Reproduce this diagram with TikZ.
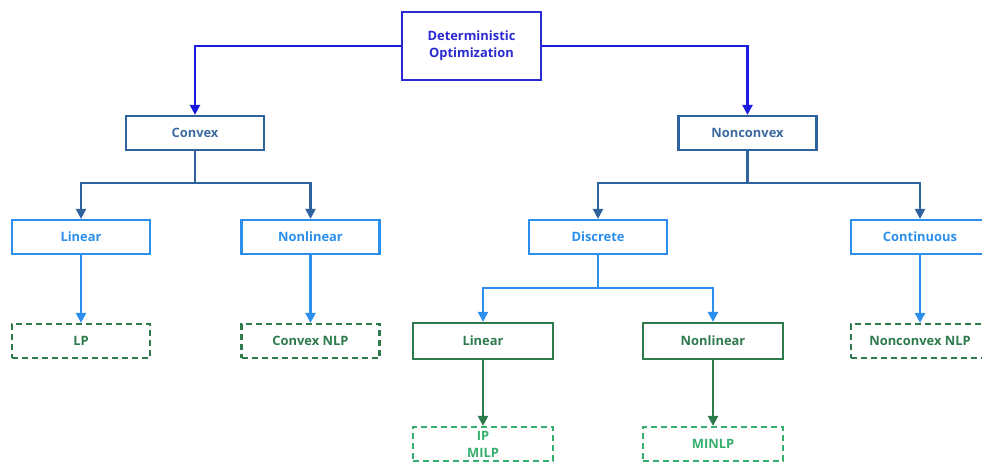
\documentclass[tikz,border=0pt]{standalone}
\usepackage{fontspec}
\setmainfont{Open Sans}
\usetikzlibrary{arrows.meta}
\definecolor{rootblue}{HTML}{2A2AD0}
\definecolor{rootline}{HTML}{1A1AE0}
\definecolor{steel}{HTML}{2E629E}
\definecolor{steeltxt}{HTML}{3C6A9E}
\definecolor{lblue}{HTML}{2B8FEB}
\definecolor{dgreen}{HTML}{2D7A4C}
\definecolor{lgreen}{HTML}{35AE6E}
\begin{document}
\begin{tikzpicture}[x=1pt,y=-1pt,
  base/.style={rectangle,minimum width=138pt,minimum height=34pt,inner sep=0pt,align=center,font=\fontsize{12.9}{17}\selectfont\bfseries},
  rootbox/.style={base,draw=rootblue,line width=2.6pt,text=rootblue,minimum width=139pt,minimum height=68pt},
  midbox/.style={base,draw=steel,line width=2.2pt,text=steeltxt},
  lbox/.style={base,draw=lblue,line width=2.2pt,text=lblue},
  gbox/.style={base,draw=dgreen,line width=2.2pt,text=dgreen,minimum width=140pt,minimum height=36pt},
  dbox/.style={base,draw=dgreen,line width=2.2pt,text=dgreen,dash pattern=on 6pt off 4pt},
  ldbox/.style={base,draw=lgreen,line width=2.2pt,text=lgreen,dash pattern=on 6pt off 4pt,minimum width=140pt},
  rootarrow/.style={draw=rootline,line width=2.2pt,-{Triangle[length=10pt,width=10pt]}},
  steelarrow/.style={draw=steel,line width=2.2pt,-{Triangle[length=10pt,width=10pt]}},
  bluearrow/.style={draw=lblue,line width=2.2pt,-{Triangle[length=10pt,width=10pt]}},
  greenarrow/.style={draw=dgreen,line width=2.2pt,-{Triangle[length=10pt,width=10pt]}}
]
\useasboundingbox (0,0) rectangle (982,461);
\clip (0,0) rectangle (982,461);

\node[rootbox] (root) at (471.5,46) {Deterministic\\Optimization};
\node[midbox] (convex) at (195,133) {Convex};
\node[midbox] (nonconvex) at (747.5,133) {Nonconvex};

\node[lbox] (lin1) at (81,237) {Linear};
\node[lbox] (nonlin1) at (310.5,237) {Nonlinear};
\node[lbox] (discrete) at (598,237) {Discrete};
\node[lbox] (cont) at (920,237) {Continuous};

\node[dbox] (lp) at (81,341) {LP};
\node[dbox] (cnlp) at (310.5,341) {Convex NLP};
\node[dbox] (nnlp) at (920,341) {Nonconvex NLP};

\node[gbox] (lin2) at (483,341) {Linear};
\node[gbox] (nonlin2) at (713,341) {Nonlinear};

\node[ldbox] (milp) at (483,444) {IP\\MILP};
\node[ldbox] (minlp) at (713,444) {MINLP};

% root connectors
\draw[rootarrow] (root.west) -| (convex.north);
\draw[rootarrow] (root.east) -| (nonconvex.north);

% convex split
\coordinate (cj) at (195,183);
\draw[steel,line width=2.2pt] (convex.south) -- (cj);
\draw[steelarrow] (cj) -| (lin1.north);
\draw[steelarrow] (cj) -| (nonlin1.north);

% nonconvex split
\coordinate (nj) at (747.5,183);
\draw[steel,line width=2.2pt] (nonconvex.south) -- (nj);
\draw[steelarrow] (nj) -| (discrete.north);
\draw[steelarrow] (nj) -| (cont.north);

% discrete split
\coordinate (dj) at (598,288);
\draw[lblue,line width=2.2pt] (discrete.south) -- (dj);
\draw[bluearrow] (dj) -| (lin2.north);
\draw[bluearrow] (dj) -| (nonlin2.north);

% leaves
\draw[bluearrow] (lin1.south) -- (lp.north);
\draw[bluearrow] (nonlin1.south) -- (cnlp.north);
\draw[bluearrow] (cont.south) -- (nnlp.north);
\draw[greenarrow] (lin2.south) -- (milp.north);
\draw[greenarrow] (nonlin2.south) -- (minlp.north);
\end{tikzpicture}
\end{document}
